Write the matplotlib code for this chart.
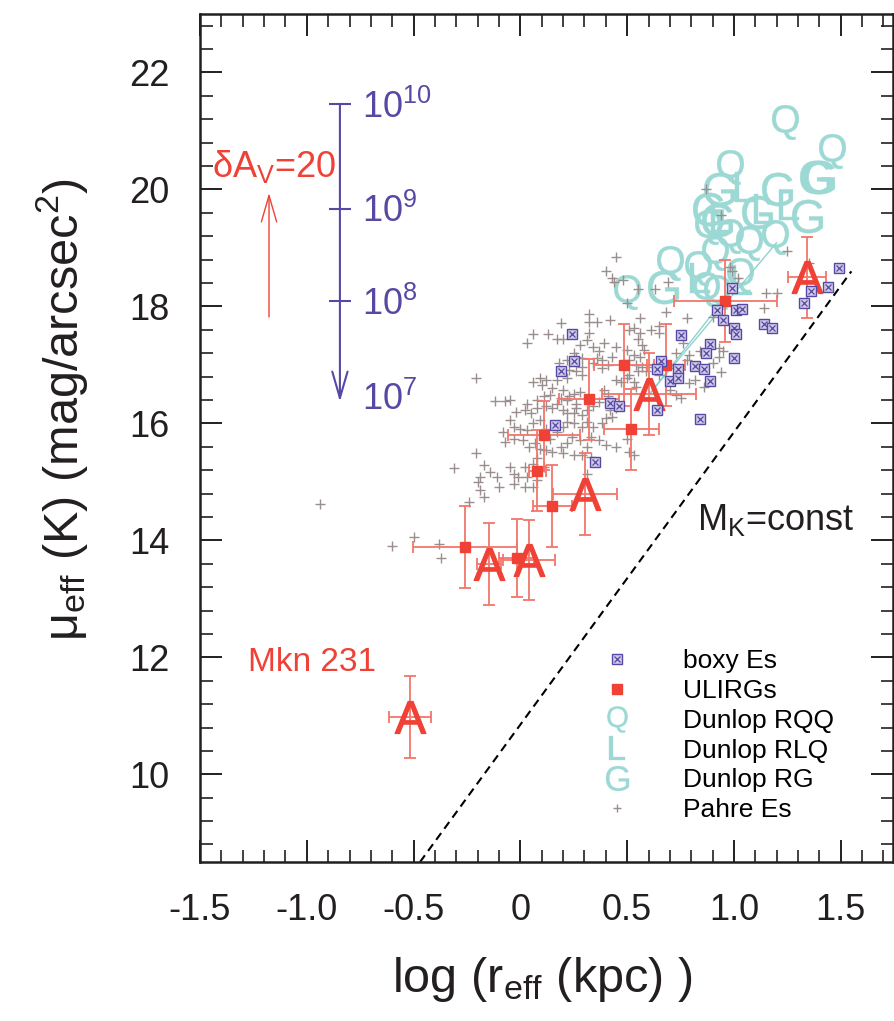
import matplotlib.pyplot as plt
from matplotlib.lines import Line2D
from matplotlib.ticker import MultipleLocator

plt.rcParams['font.family'] = ['Liberation Sans', 'DejaVu Sans']
plt.rcParams['mathtext.fontset'] = 'custom'
plt.rcParams['mathtext.rm'] = 'Liberation Sans'
plt.rcParams['mathtext.it'] = 'Liberation Sans:italic'
plt.rcParams['mathtext.bf'] = 'Liberation Sans:bold'
plt.rcParams['mathtext.sf'] = 'Liberation Sans'

# Pahre ellipticals (grey crosses)
pahre_x = [0.32, 0.32, 0.36, 0.42, 0.56, 0.68, 0.19, 0.51, 0.56, 0.61,
           0.65, 0.65, 0.53, 0.06, 0.13, 0.17, 0.20, 0.03, 0.32, 0.31,
           0.28, 0.39, 0.34, 0.37, 0.45, 0.50, 0.55, 0.57, 0.58, 0.76,
           0.73, 0.79, 0.78, 0.84, 0.90, 0.93, 0.25, 0.26, 0.29, 0.22,
           0.18, 0.36, 0.38, 0.34, 0.38, 0.41, 0.43, 0.53, 0.51, 0.56,
           0.54, 0.57, 0.55, 0.51, 0.45, 0.47, 0.50, 0.53, 0.54, 0.59,
           0.62, 0.65, 0.72, 0.70, 0.73, 0.75, 0.79, 0.82, 0.86, 0.29,
           0.23, 0.26, 0.29, 0.22, 0.17, 0.12, 0.09, 0.10, 0.06, 0.15,
           0.20, 0.25, 0.28, 0.23, 0.22, 0.26, 0.19, 0.17, 0.14, 0.11,
           0.08, 0.03, 0.02, -0.02, 0.05, 0.08, 0.12, 0.15, 0.20, 0.22,
           0.25, 0.26, 0.29, 0.31, 0.34, 0.37, 0.39, 0.41, 0.42, 0.45,
           0.43, 0.40, 0.38, 0.34, 0.31, 0.29, 0.25, 0.22, 0.20, 0.17,
           0.12, 0.09, 0.06, 0.03, 0.00, -0.03, -0.05, -0.08, -0.07, -0.03,
           0.01, 0.04, 0.07, 0.09, 0.12, 0.15, 0.19, 0.22, 0.24, 0.28,
           0.31, 0.33, 0.37, 0.40, 0.45, 0.50, 0.51, 0.53, 0.14, 0.20,
           0.25, 0.29, 0.33, -0.21, -0.17, -0.14, -0.19, -0.20, -0.11, -0.10,
           -0.05, -0.03, -0.01, -0.03, 0.02, 0.03, 0.08, 0.06, 0.02, -0.19,
           -0.17, -0.24, -0.31, -0.21, -0.12, -0.07, -0.05, 0.31, -0.50, -0.38,
           -0.37, 0.08, 0.06, 0.11,
           0.87, 0.94, 1.25, 0.45, 0.40, 0.43, 0.48, 0.44, 0.55, 0.63,
           0.69, 0.50, 0.78, 0.90, 0.98, 0.99, 1.02, 0.99, 1.15, 1.20,
           1.14, 1.35, 0.93, 0.95, 0.94, -0.60, -0.94]
pahre_y = [17.87, 17.74, 17.74, 17.77, 17.80, 17.91, 17.71, 17.60, 17.54, 17.59,
           17.66, 17.54, 17.63, 17.53, 17.53, 17.44, 17.44, 17.38, 17.54, 17.43,
           17.34, 17.37, 17.31, 17.23, 17.30, 17.26, 17.44, 17.34, 17.26, 17.37,
           17.20, 17.17, 17.09, 17.23, 17.03, 17.14, 17.20, 17.14, 17.11, 17.09,
           17.03, 17.11, 17.09, 17.03, 16.94, 17.00, 17.14, 17.17, 17.09, 17.14,
           17.00, 16.97, 16.89, 16.83, 16.74, 16.71, 16.77, 16.71, 16.63, 16.89,
           16.97, 16.83, 16.94, 16.57, 16.49, 16.43, 16.69, 16.74, 16.63, 16.97,
           16.91, 16.89, 16.83, 16.77, 16.74, 16.74, 16.77, 16.66, 16.71, 16.60,
           16.57, 16.51, 16.54, 16.46, 16.40, 16.34, 16.43, 16.34, 16.49, 16.46,
           16.40, 16.34, 16.23, 16.20, 16.17, 16.26, 16.29, 16.26, 16.23, 16.17,
           16.17, 16.26, 16.14, 16.23, 16.29, 16.37, 16.57, 16.46, 16.23, 16.26,
           16.11, 16.09, 16.00, 15.94, 16.03, 15.94, 16.00, 16.03, 15.94, 15.86,
           15.91, 16.06, 16.00, 15.89, 15.91, 15.94, 16.06, 15.86, 15.69, 15.74,
           15.71, 15.60, 15.66, 15.57, 15.54, 15.51, 15.60, 15.66, 15.77, 15.71,
           15.60, 15.77, 15.71, 15.63, 15.60, 15.74, 15.51, 15.46, 15.74, 15.49,
           15.46, 15.46, 15.43, 15.49, 15.29, 15.17, 15.09, 15.00, 15.09, 14.91,
           15.26, 15.14, 15.09, 14.97, 15.26, 15.09, 15.03, 14.91, 14.91, 14.86,
           14.74, 14.66, 15.23, 16.77, 16.39, 16.39, 16.40, 15.14, 14.06, 13.94,
           13.69, 15.40, 15.31, 15.26,
           20.00, 19.57, 18.94, 18.85, 18.60, 18.49, 18.46, 18.41, 18.30, 18.30,
           18.42, 18.06, 17.81, 17.82, 18.68, 18.61, 18.49, 18.29, 18.23, 18.23,
           17.97, 18.75, 17.29, 17.24, 16.88, 13.90, 14.63]

# boxy ellipticals
boxy_x = [0.24, 0.25, 0.19, 0.16, 0.35, 0.42, 0.46, 0.66, 0.64, 0.70,
          0.75, 0.89, 0.87, 0.82, 0.86, 0.74, 0.74, 0.89, 0.84, 0.64,
          0.92, 0.95, 1.01, 1.04, 0.99, 1.00, 1.14, 1.18, 1.33, 1.36,
          1.44, 1.49, 1.00, 1.01]
boxy_y = [17.52, 17.06, 16.90, 15.97, 15.34, 16.35, 16.29, 17.07, 16.93, 16.73,
          17.51, 17.35, 17.20, 16.98, 16.93, 16.93, 16.78, 16.73, 16.07, 16.23,
          17.94, 17.77, 17.94, 17.96, 18.32, 17.63, 17.70, 17.63, 18.06, 18.27,
          18.34, 18.66, 17.12, 17.52]

# ULIRGs (squares)
ul_x = [0.485, 0.681, 0.32, 0.11, 0.52, 0.08, 0.15, -0.26, -0.018, 0.96]
ul_y = [17.0, 17.0, 16.41, 15.80, 15.90, 15.19, 14.59, 13.89, 13.70, 18.09]
ul_xerr = [0.14, 0.09, 0.14, 0.17, 0.13, 0.04, 0.09, 0.245, 0.08, 0.24]
ul_yerr = [0.70, 0.70, 0.69, 0.59, 0.69, 0.69, 0.70, 0.70, 0.67, 0.70]

# ULIRGs drawn as "A"
a_x = [-0.517, -0.147, 0.04, 0.302, 0.604, 1.343]
a_y = [10.98, 13.59, 13.66, 14.79, 16.50, 18.50]
a_xerr = [0.10, 0.056, 0.12, 0.15, 0.22, 0.09]
a_yerr = [0.70, 0.70, 0.68, 0.70, 0.70, 0.69]

# Dunlop hosts
q_x = [1.24, 1.46, 0.98, 0.88, 0.98, 1.07, 1.19, 0.91, 0.70, 0.83, 1.03, 0.87, 0.92, 0.50]
q_y = [21.15, 20.65, 20.38, 19.35, 19.21, 19.09, 19.18, 18.92, 18.75, 18.66, 18.54, 18.29, 18.24, 18.25]
l_x = [1.05, 1.14, 1.26, 0.84, 1.04, 0.94]
l_y = [20.05, 19.66, 19.74, 18.49, 18.46, 19.52]
g_x = [0.93, 1.20, 1.38, 1.40, 0.88, 1.11, 1.34, 0.92, 0.67]
g_y = [20.00, 20.00, 20.22, 20.22, 19.66, 19.62, 19.54, 19.47, 18.34]

# thin lines from one ULIRG to the quasar region
link_x = [[0.604, 1.20], [0.604, 1.03]]
link_y = [[16.50, 19.09], [16.50, 18.48]]

# M_K = const line
mk_x = [-0.47, 1.55]
mk_y = [8.5, 18.6]

# mass scale and extinction arrow
scale_x = -0.845
mass_tick_y = [21.46, 19.66, 18.10]
mass_tip_y = 16.37
mass_labels = [r'$\mathrm{10}^{\mathrm{10}}$', r'$\mathrm{10}^{\mathrm{9}}$',
               r'$\mathrm{10}^{\mathrm{8}}$', r'$\mathrm{10}^{\mathrm{7}}$']
mass_label_y = [21.22, 19.44, 17.86, 16.23]
av_x = -1.177
av_y = [17.82, 19.94]

x_ticks = [-1.5, -1.0, -0.5, 0, 0.5, 1.0, 1.5]
x_ticklabels = ['-1.5', '-1.0', '-0.5', '0', '0.5', '1.0', '1.5']
y_ticks = [10, 12, 14, 16, 18, 20, 22]
y_ticklabels = ['10', '12', '14', '16', '18', '20', '22']

red = '#ef4136'
red_bar = '#f2766b'
cyan = '#9dd9d4'
blue = '#5549a4'
boxy_fill = '#cfcbe8'
grey = '#9a8e8e'
ink = '#231f20'

fig = plt.figure(figsize=(8.95, 10.21), dpi=100)
ax = fig.add_axes([0.2235, 0.1557, 0.7743, 0.8306])

ax.plot(q_x, q_y, ls='none', marker=r'$\mathrm{Q}$', ms=25, mew=0.3, color=cyan, zorder=2)
ax.plot(l_x, l_y, ls='none', marker=r'$\mathrm{L}$', ms=22, mew=0.3, color=cyan, zorder=2)
ax.plot(g_x, g_y, ls='none', marker=r'$\mathrm{G}$', ms=24, mew=0.3, color=cyan, zorder=2)

for lx, ly in zip(link_x, link_y):
    ax.plot(lx, ly, color='#8fd3cf', lw=1.0, zorder=3)

ax.plot(pahre_x, pahre_y, ls='none', marker='+', ms=7, mew=1.0, color=grey, zorder=3)

ax.errorbar(ul_x, ul_y, xerr=ul_xerr, yerr=ul_yerr, fmt='s', ms=6.5,
            mfc=red, mec=red, ecolor=red_bar, elinewidth=1.3, capsize=4,
            capthick=1.3, zorder=4)
ax.errorbar(a_x, a_y, xerr=a_xerr, yerr=a_yerr, fmt='none', ecolor=red_bar,
            elinewidth=1.3, capsize=4, capthick=1.3, zorder=4)
ax.plot(a_x, a_y, ls='none', marker=r'$\mathrm{A}$', ms=23, mew=0.9, color=red, zorder=4)

ax.plot(boxy_x, boxy_y, ls='none', marker='s', ms=6.5, mfc=boxy_fill, mec=blue, mew=1.0, zorder=5)
ax.plot(boxy_x, boxy_y, ls='none', marker='x', ms=4, mec=blue, mew=0.9, zorder=5)

ax.plot(mk_x, mk_y, color='k', lw=1.5, ls=(0, (4, 2.6)), zorder=2)
ax.text(0.826, 14.17, r'M$_{\mathrm{K}}$=const', fontsize=26, color=ink, va='baseline')

# mass scale
ax.annotate('', xy=(scale_x, mass_tip_y), xytext=(scale_x, mass_tick_y[0]),
            arrowprops=dict(arrowstyle='->,head_length=1.9,head_width=0.55',
                            color=blue, lw=1.5, shrinkA=0, shrinkB=0, mutation_scale=10))
ax.plot([scale_x] * len(mass_tick_y), mass_tick_y, ls='none', marker='_', ms=16,
        mew=1.5, color=blue)
for lab, ly in zip(mass_labels, mass_label_y):
    ax.text(scale_x + 0.103, ly, lab, fontsize=26, color=blue, va='baseline')

# extinction arrow
ax.annotate('', xy=(av_x, av_y[1]), xytext=(av_x, av_y[0]),
            arrowprops=dict(arrowstyle='->,head_length=1.9,head_width=0.55',
                            color=red, lw=1.0, shrinkA=0, shrinkB=0, mutation_scale=10))
ax.text(-1.444, 20.22, r'δA$_{\mathrm{V}}$=20', fontsize=26, color=red, va='baseline')
ax.text(-1.275, 11.77, 'Mkn 231', fontsize=24, color=red, va='baseline')

ax.set_xlim(-1.5, 1.745)
ax.set_ylim(8.5, 23.0)
ax.set_xticks(x_ticks, x_ticklabels)
ax.set_yticks(y_ticks, y_ticklabels)
ax.xaxis.set_minor_locator(MultipleLocator(0.1))
ax.yaxis.set_minor_locator(MultipleLocator(0.4))
ax.tick_params(which='both', direction='in', top=True, right=True, colors=ink)
ax.tick_params(which='major', length=16, width=1.4, labelsize=26, pad=22)
ax.tick_params(which='minor', length=9, width=1.2)
for sp in ax.spines.values():
    sp.set_linewidth(1.8)
    sp.set_color(ink)

ax.set_xlabel(r'log (r$_{\mathrm{eff}}$ (kpc) )', fontsize=35, color=ink, va='top')
ax.xaxis.set_label_coords(0.494, -0.110)
ax.set_ylabel(r'μ$_{\mathrm{eff}}$ (K) (mag/arcsec$^{\mathrm{2}}$)', fontsize=35, color=ink)
ax.yaxis.set_label_coords(-0.159, 0.533)

handles = [
    (Line2D([], [], ls='none', marker='s', ms=6.5, mfc=boxy_fill, mec=blue, mew=1.0),
     Line2D([], [], ls='none', marker='x', ms=4, mec=blue, mew=0.9)),
    Line2D([], [], ls='none', marker='s', ms=6.5, mfc=red, mec=red),
    Line2D([], [], ls='none', marker=r'$\mathrm{Q}$', ms=19, mew=0.2, color=cyan),
    Line2D([], [], ls='none', marker=r'$\mathrm{L}$', ms=17, mew=0.2, color=cyan),
    Line2D([], [], ls='none', marker=r'$\mathrm{G}$', ms=18, mew=0.2, color=cyan),
    Line2D([], [], ls='none', marker='+', ms=6, mew=1.0, color=grey),
]
labels = ['boxy Es', 'ULIRGs', 'Dunlop RQQ', 'Dunlop RLQ', 'Dunlop RG', 'Pahre Es']
ax.legend(handles, labels, loc='lower left', bbox_to_anchor=(0.583, 0.047),
          frameon=False, fontsize=19, handlelength=1.0, handletextpad=2.0,
          labelspacing=0.22, borderpad=0, borderaxespad=0)

fig.savefig('out.png', dpi=100)
